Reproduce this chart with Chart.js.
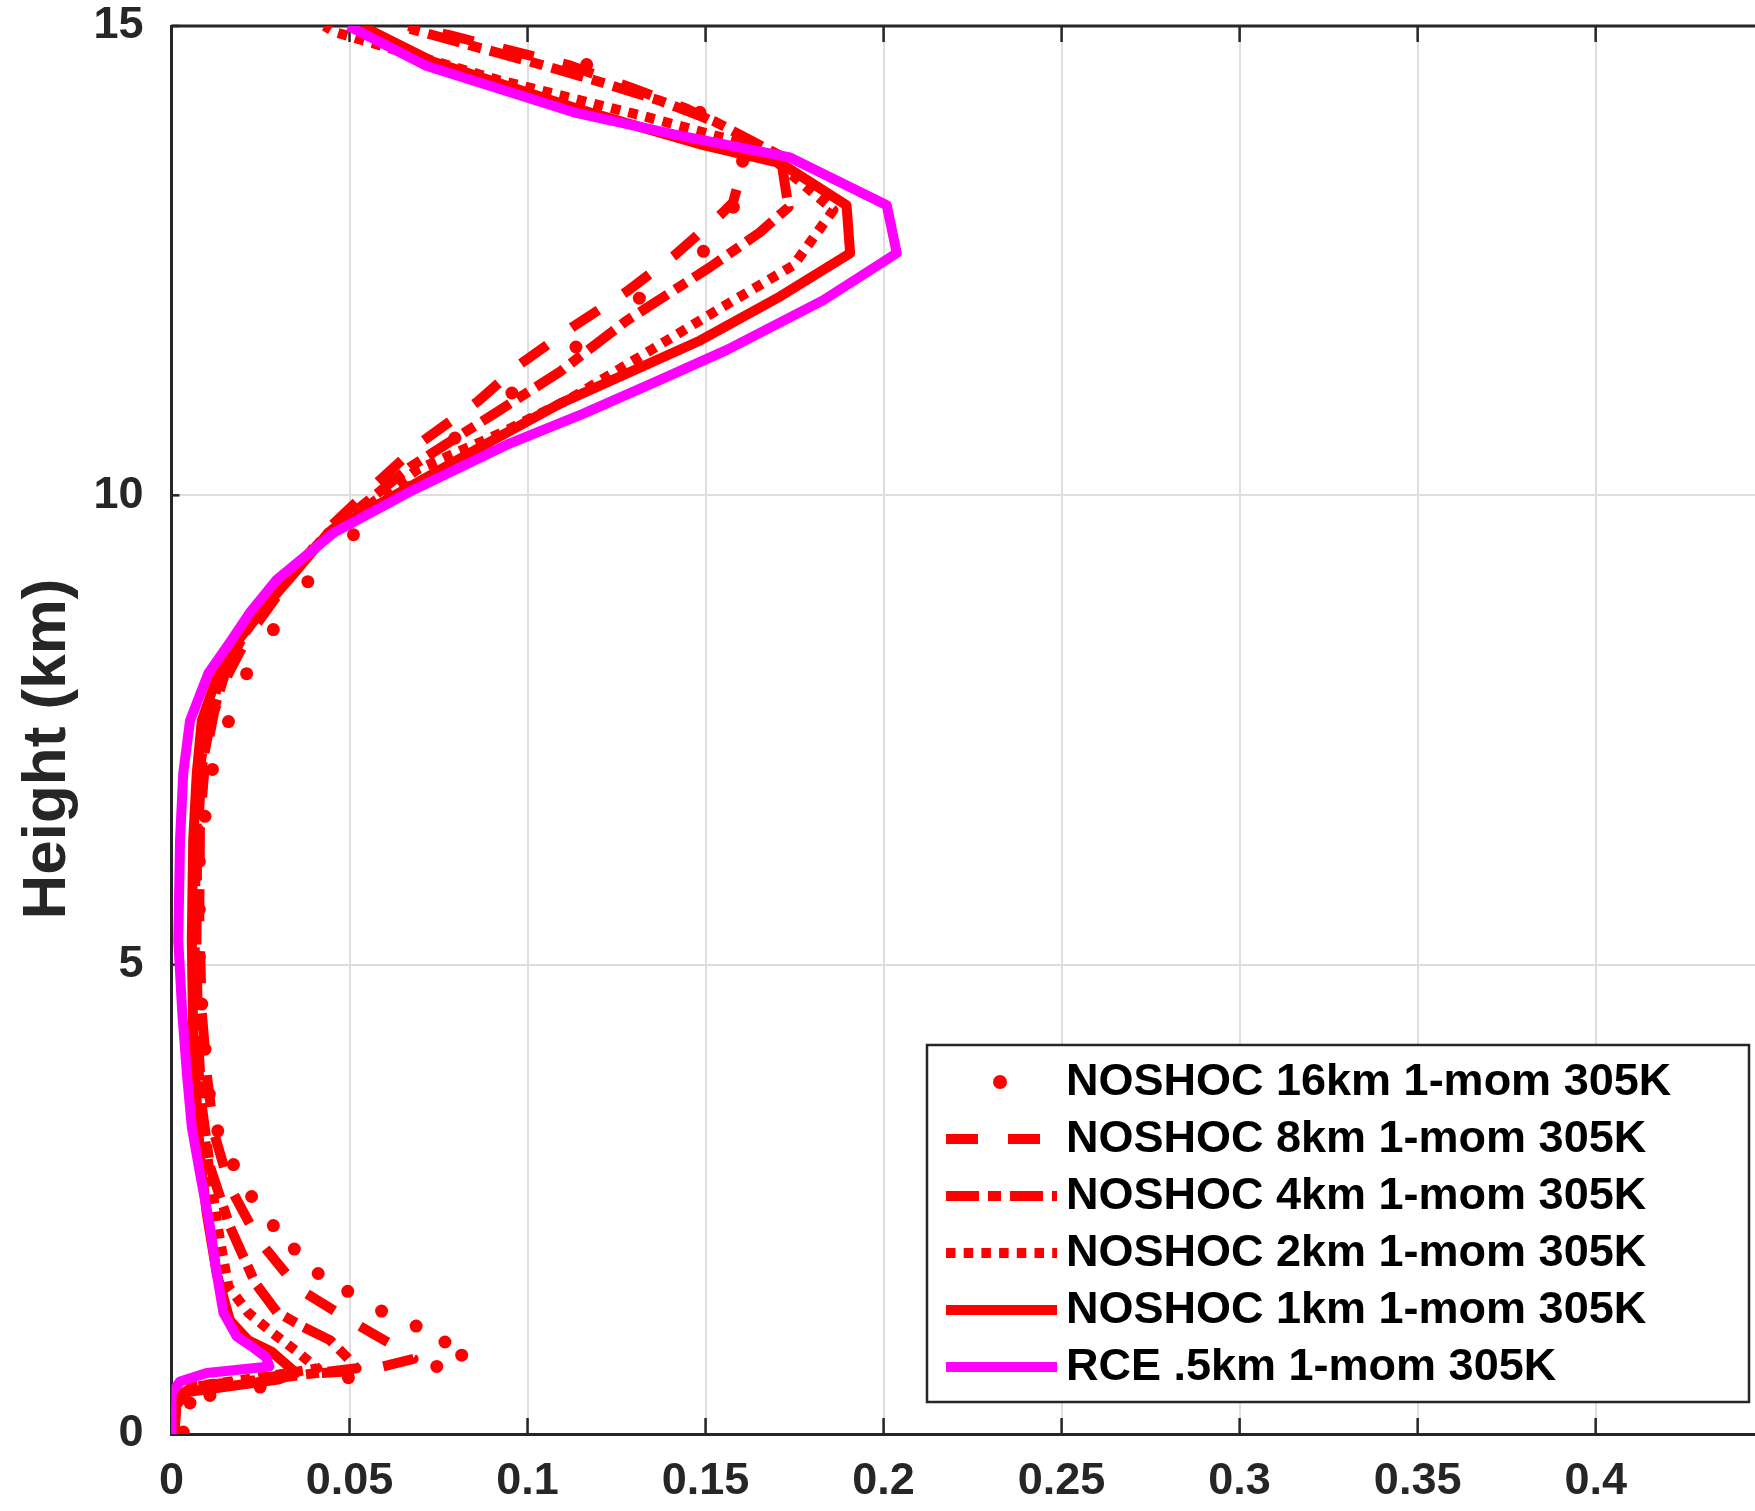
<!DOCTYPE html>
<html>
<head>
<meta charset="utf-8">
<script src="https://cdn.jsdelivr.net/npm/chart.js@4.4.1/dist/chart.umd.min.js"></script>
<style>
  html, body { margin: 0; padding: 0; background: #fff; overflow: hidden; }
  #wrap { position: absolute; left: 0; top: -29px; width: 1900px; height: 1540px; }
</style>
</head>
<body>
<div id="wrap"><canvas id="profileChart"></canvas></div>
<script>
// heights (km) and values
const z16 = [0.02, 0.33, 0.41, 0.50, 0.60, 0.72, 0.84, 0.98, 1.15, 1.31, 1.52, 1.71, 1.97, 2.22, 2.53, 2.87, 3.23, 3.62, 4.10, 4.58, 5.08, 5.59, 6.10, 6.58, 7.08, 7.59, 8.10, 8.57, 9.08, 9.58, 10.08, 10.61, 11.09, 11.58, 12.10, 12.60, 13.07, 13.56, 14.08, 14.59];
const v16 = [0.0033, 0.0052, 0.0108, 0.0249, 0.0497, 0.0745, 0.0815, 0.0768, 0.0687, 0.0590, 0.0495, 0.0412, 0.0345, 0.0286, 0.0225, 0.0174, 0.0130, 0.0106, 0.0094, 0.0085, 0.0078, 0.0078, 0.0078, 0.0094, 0.0115, 0.0160, 0.0211, 0.0286, 0.0383, 0.0511, 0.0666, 0.0796, 0.0956, 0.1136, 0.1314, 0.1494, 0.1578, 0.1604, 0.1484, 0.1166];

const z8 = [0, 0.40, 0.50, 0.62, 0.68, 0.80, 0.89, 1.20, 1.55, 2.07, 2.63, 3.2, 3.8, 4.5, 5.5, 6.5, 7.2, 7.7, 8.1, 8.5, 9.0, 9.63, 10.13, 10.57, 11.0, 11.4, 11.8, 12.17, 12.56, 13.0, 13.12, 13.57, 13.82, 14.12, 14.34, 14.58, 14.74, 14.9, 15.0];
const v8 = [0.0008, 0.0015, 0.006, 0.030, 0.055, 0.068, 0.0647, 0.0506, 0.0356, 0.0244, 0.0164, 0.0120, 0.0100, 0.0085, 0.0078, 0.0080, 0.0095, 0.0120, 0.0160, 0.0215, 0.0310, 0.0436, 0.0576, 0.0703, 0.0860, 0.0980, 0.1129, 0.1278, 0.1414, 0.1545, 0.1577, 0.1610, 0.1602, 0.1447, 0.1293, 0.1119, 0.0950, 0.0783, 0.0665];

const z4 = [0, 0.40, 0.50, 0.60, 0.70, 0.82, 1.0, 1.14, 1.30, 1.61, 2.21, 2.85, 3.5, 4.2, 5.2, 6.3, 7.1, 7.6, 8.1, 8.5, 9.0, 9.6, 10.3, 10.55, 10.91, 11.32, 11.86, 12.43, 12.8, 13.07, 13.43, 13.61, 13.98, 14.21, 14.42, 14.6, 14.97];
const v4 = [0.0008, 0.0015, 0.006, 0.030, 0.052, 0.0492, 0.0445, 0.0370, 0.0296, 0.0235, 0.0164, 0.0108, 0.0085, 0.0075, 0.0070, 0.0072, 0.0085, 0.0110, 0.0150, 0.0200, 0.0295, 0.0440, 0.0670, 0.0773, 0.0923, 0.1092, 0.1278, 0.1512, 0.1652, 0.1733, 0.1718, 0.1714, 0.1527, 0.1368, 0.1190, 0.1026, 0.0670];

const z2 = [0, 0.40, 0.50, 0.62, 0.70, 0.76, 0.88, 1.07, 1.29, 1.57, 2.07, 2.7, 3.4, 4.2, 5.2, 6.3, 7.1, 7.6, 8.1, 8.5, 9.0, 9.6, 10.27, 10.66, 11.03, 11.99, 12.45, 13.04, 13.55, 13.78, 14.05, 14.42, 14.94, 15.0];
const v2 = [0.0006, 0.0012, 0.005, 0.028, 0.041, 0.039, 0.0352, 0.0286, 0.0216, 0.0160, 0.0136, 0.0110, 0.0085, 0.0070, 0.0065, 0.0068, 0.0080, 0.0100, 0.0140, 0.0195, 0.0280, 0.0450, 0.0689, 0.0923, 0.1120, 0.1540, 0.1747, 0.1859, 0.1700, 0.1578, 0.1316, 0.0923, 0.0455, 0.0430];

const z1 = [0, 0.30, 0.45, 0.58, 0.65, 0.88, 1.0, 1.21, 1.71, 2.35, 2.95, 3.84, 4.2, 5.26, 6.33, 7.04, 7.6, 8.1, 8.46, 8.8, 9.15, 9.6, 10.05, 10.54, 10.98, 11.65, 12.12, 12.58, 13.09, 13.54, 13.73, 14.12, 14.62, 15.0];
const v1 = [0.0005, 0.001, 0.005, 0.030, 0.035, 0.028, 0.0215, 0.0164, 0.0127, 0.0099, 0.0080, 0.0066, 0.0061, 0.0057, 0.0061, 0.0071, 0.0085, 0.0131, 0.0188, 0.0260, 0.0340, 0.0440, 0.0650, 0.0880, 0.1092, 0.1485, 0.1710, 0.1906, 0.1896, 0.1710, 0.1494, 0.1138, 0.0735, 0.0534];

const zR = [0, 0.43, 0.56, 0.65, 0.72, 0.82, 0.92, 1.04, 1.29, 1.71, 2.21, 2.78, 3.27, 3.85, 4.5, 5.26, 6.33, 7.04, 7.6, 8.1, 8.46, 8.75, 9.10, 9.6, 10.06, 10.54, 10.87, 11.23, 11.55, 12.08, 12.58, 13.09, 13.6, 13.84, 14.08, 14.58, 15.0];
const vR = [0.0, 0.0, 0.0024, 0.0099, 0.0275, 0.0265, 0.0230, 0.0183, 0.0146, 0.0127, 0.0108, 0.0080, 0.0057, 0.0043, 0.0030, 0.0019, 0.0024, 0.0033, 0.0052, 0.0103, 0.0169, 0.0220, 0.0295, 0.0455, 0.0680, 0.0942, 0.1157, 0.1372, 0.1560, 0.1831, 0.2037, 0.2009, 0.1737, 0.1418, 0.1130, 0.0713, 0.0497];

const seriesNames = ['NOSHOC 16km 1-mom 305K', 'NOSHOC 8km 1-mom 305K', 'NOSHOC 4km 1-mom 305K',
                     'NOSHOC 2km 1-mom 305K', 'NOSHOC 1km 1-mom 305K', 'RCE .5km 1-mom 305K'];
const xTickLabels = ['0', '0.05', '0.1', '0.15', '0.2', '0.25', '0.3', '0.35', '0.4'];
const yTickLabels = ['0', '5', '10', '15'];
const yTitle = 'Height (km)';

const FONT = "'Liberation Sans', Arial, Helvetica, sans-serif";
const AXIS = '#262626';
const RED = '#ff0000';
const MAGENTA = '#ff00ff';
const OFFSET = 29; // canvas is shifted up by this much

function pairs(vals, hts) {
    return vals.map((v, i) => ({ x: v, y: hts[i] }));
}

function lineSet(name, vals, hts, color, dash, order) {
    return {
        label: name,
        data: pairs(vals, hts),
        showLine: true,
        borderColor: color,
        backgroundColor: color,
        borderWidth: 10,
        borderDash: dash,
        borderCapStyle: 'butt',
        borderJoinStyle: 'round',
        pointRadius: 0,
        tension: 0,
        order: order
    };
}

const datasets = [
    {
        label: seriesNames[0],
        data: pairs(v16, z16),
        showLine: false,
        pointRadius: 6.5,
        pointStyle: 'circle',
        pointBackgroundColor: RED,
        pointBorderWidth: 0,
        order: 5
    },
    lineSet(seriesNames[1], v8, z8, RED, [32, 30], 4),
    lineSet(seriesNames[2], v4, z4, RED, [33, 9, 13, 9], 3),
    lineSet(seriesNames[3], v2, z2, RED, [9.5, 8.2], 2),
    lineSet(seriesNames[4], v1, z1, RED, [], 1),
    lineSet(seriesNames[5], vR, zR, MAGENTA, [], 0)
];

// inside ticks, top box line (under the data, like matlab)
const boxPlugin = {
    id: 'box',
    beforeDatasetsDraw(chart) {
        const { ctx, chartArea: a, scales } = chart;
        ctx.save();
        ctx.strokeStyle = AXIS;
        ctx.lineWidth = 3;
        ctx.beginPath();
        ctx.moveTo(a.left, a.top);
        ctx.lineTo(a.right, a.top);
        ctx.stroke();
        ctx.lineWidth = 2.5;
        scales.x.ticks.forEach(t => {
            const px = scales.x.getPixelForValue(t.value);
            ctx.beginPath();
            ctx.moveTo(px, a.bottom); ctx.lineTo(px, a.bottom - 16);
            ctx.moveTo(px, a.top); ctx.lineTo(px, a.top + 16);
            ctx.stroke();
        });
        scales.y.ticks.forEach(t => {
            const py = scales.y.getPixelForValue(t.value);
            ctx.beginPath();
            ctx.moveTo(a.left, py); ctx.lineTo(a.left + 8, py);
            ctx.stroke();
        });
        ctx.restore();
    },
    afterDraw(chart) {
        const ctx = chart.ctx;
        ctx.save();
        ctx.translate(0, OFFSET);

        // y axis title
        ctx.save();
        ctx.translate(65, 749);
        ctx.rotate(-Math.PI / 2);
        ctx.font = 'bold 62px ' + FONT;
        ctx.fillStyle = AXIS;
        ctx.textAlign = 'center';
        ctx.textBaseline = 'alphabetic';
        ctx.fillText(yTitle, 0, 0);
        ctx.restore();

        // legend box
        const bx = 927, by = 1045, bw = 822, bh = 357;
        ctx.fillStyle = '#fff';
        ctx.fillRect(bx, by, bw, bh);
        ctx.strokeStyle = AXIS;
        ctx.lineWidth = 2.5;
        ctx.strokeRect(bx, by, bw, bh);
        chart.data.datasets.forEach((ds, i) => {
            const y = 1082 + i * 57;
            if (ds.showLine === false) {
                ctx.fillStyle = ds.pointBackgroundColor;
                ctx.beginPath();
                ctx.arc(1000, y, 7, 0, Math.PI * 2);
                ctx.fill();
            } else {
                ctx.strokeStyle = ds.borderColor;
                ctx.lineWidth = ds.borderWidth;
                ctx.lineCap = 'butt';
                ctx.setLineDash(ds.borderDash);
                ctx.beginPath();
                ctx.moveTo(946, y);
                ctx.lineTo(1057, y);
                ctx.stroke();
                ctx.setLineDash([]);
            }
            ctx.fillStyle = '#000';
            ctx.font = 'bold 45px ' + FONT;
            ctx.textAlign = 'left';
            ctx.textBaseline = 'middle';
            ctx.fillText(ds.label, 1066, y + 1);
        });
        ctx.restore();
    }
};

const ctx = document.getElementById('profileChart').getContext('2d');
const profileChart = new Chart(ctx, {
    type: 'scatter',
    data: { datasets: datasets },
    options: {
        responsive: true,
        maintainAspectRatio: false,
        animation: false,
        events: [],
        layout: { padding: { top: 0, right: 137, bottom: 0, left: 0 } },
        plugins: {
            legend: { display: false },
            tooltip: { enabled: false }
        },
        scales: {
            x: {
                type: 'linear',
                min: 0,
                max: 0.447,
                afterFit: s => { s.height = 77; },
                border: { color: AXIS, width: 3 },
                grid: { color: '#dedede', lineWidth: 2, drawTicks: false },
                ticks: {
                    stepSize: 0.05,
                    includeBounds: false,
                    autoSkip: false,
                    maxRotation: 0,
                    padding: 21,
                    color: AXIS,
                    font: { family: FONT, size: 45, weight: 'bold' },
                    callback: (v, i) => (i < xTickLabels.length ? xTickLabels[i] : '')
                }
            },
            y: {
                type: 'linear',
                min: 0,
                max: 15,
                afterFit: s => { s.width = 171.5; },
                border: { color: AXIS, width: 3 },
                grid: { color: '#dedede', lineWidth: 2, drawTicks: false },
                ticks: {
                    stepSize: 5,
                    padding: 28,
                    color: AXIS,
                    font: { family: FONT, size: 45, weight: 'bold' },
                    callback: (v, i) => yTickLabels[i]
                }
            }
        }
    },
    plugins: [boxPlugin]
});
</script>
</body>
</html>
